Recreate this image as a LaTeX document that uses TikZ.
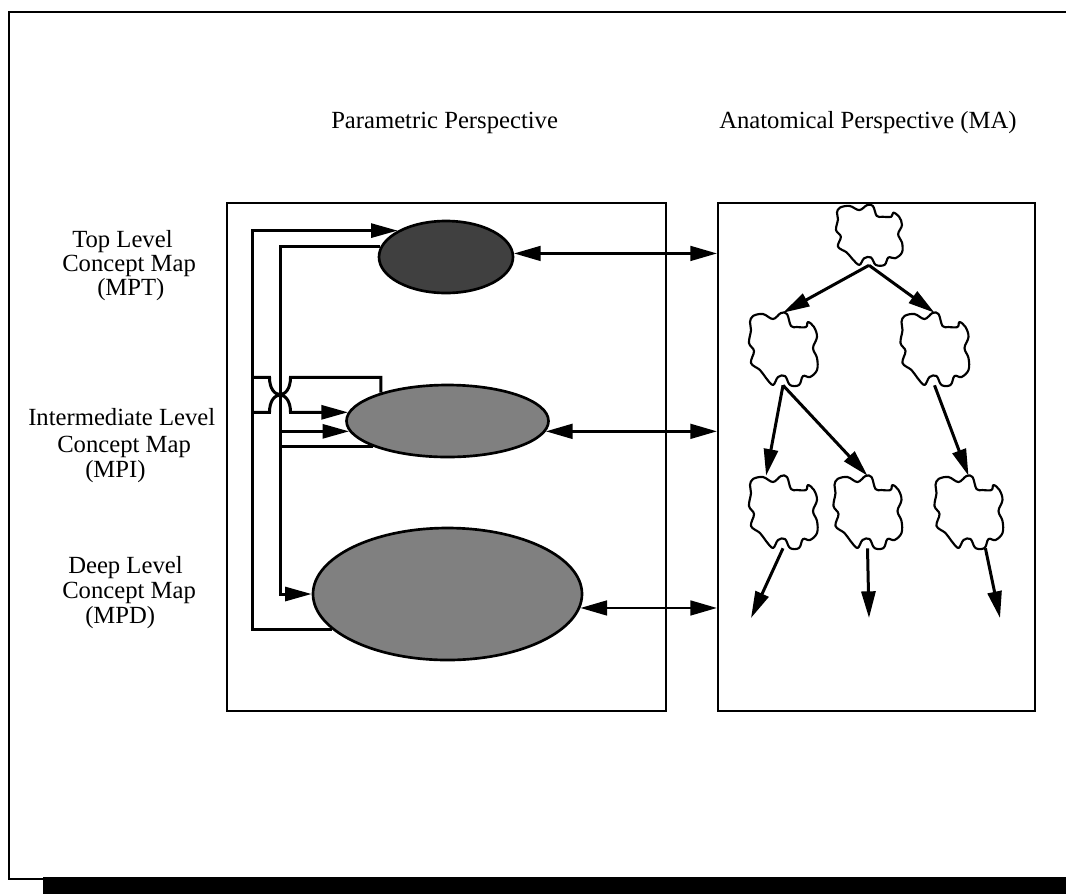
\documentclass[tikz,border=0pt]{standalone}
\usepackage{fontspec}
\setmainfont{Liberation Serif}
\usetikzlibrary{shapes.geometric,arrows.meta,calc}

\tikzset{blob/.pic={
    \draw[line width=1.6pt, line join=round] plot[smooth cycle, tension=0.6] coordinates {
      (-30,-33) (-20,-35) (-10,-30) (-2,-36) (4,-35) (8,-23) (14,-22) (23,-22) (25,-27)
      (31,-22) (34,-12) (30,-1) (34,9) (34,21) (27,28) (20,27) (16,36) (7,36) (2,27)
      (-5,28) (-10,36) (-17,29) (-23,21) (-32,14) (-29,2) (-34,-6) (-32,-19) (-33,-27)};
}}

\begin{document}
\begin{tikzpicture}[x=0.75pt, y=-0.75pt, font=\fontsize{18.5}{18.75}\selectfont]
    \tikzstyle{persp}=[draw, line width=1.5pt, inner sep=0pt, minimum height=381pt]
    \tikzstyle{map}=[ellipse, draw, line width=2pt, inner sep=0pt]
    \tikzstyle{blobbox}=[inner sep=0pt, minimum width=51pt, minimum height=54pt]
    \tikzstyle{link}=[line width=2.25pt]
    \tikzstyle{arr}=[line width=2.25pt, -{Triangle[length=20pt,width=10.5pt]}]
    \tikzstyle{dbl}=[line width=2pt, {Triangle[length=20pt,width=11pt]}-{Triangle[length=20pt,width=11pt]}]
    \tikzstyle{lbl}=[anchor=base west, inner sep=0pt]
    \useasboundingbox (0,0) rectangle (1066,894);

    % frame and shadow
    \draw[line width=1.5pt] (1066,12) -- (9,12) -- (9,879) -- (43,879);
    \fill (43,877) rectangle (1066,894);

    % headings
    \node[lbl] (hpar) at (331,128) {Parametric Perspective};
    \node[lbl] (hana) at (719,128) {Anatomical Perspective (MA)};

    % level labels
    \node[lbl] (topA) at (72,247) {Top Level};
    \node[lbl] (topB) at (62,271) {Concept Map};
    \node[lbl] (topC) at (97,295) {(MPT)};
    \node[lbl] (midA) at (28,425) {Intermediate Level};
    \node[lbl] (midB) at (57,452) {Concept Map};
    \node[lbl] (midC) at (85,477) {(MPI)};
    \node[lbl] (deepA) at (68,573) {Deep Level};
    \node[lbl] (deepB) at (62,598) {Concept Map};
    \node[lbl] (deepC) at (85,623) {(MPD)};

    % the two perspectives
    \node[persp, minimum width=329.25pt] (param) at (446.5,457) {};
    \node[persp, minimum width=237.75pt] (anat) at (876.5,457) {};

    % concept maps
    \node[map, fill={rgb,255:red,64;green,64;blue,64}, minimum width=100.5pt, minimum height=54pt] (top) at (446,257) {};
    \node[map, fill={rgb,255:red,128;green,128;blue,128}, minimum width=151.5pt, minimum height=54pt] (mid) at (447.5,421) {};
    \node[map, fill={rgb,255:red,128;green,128;blue,128}, minimum width=201.75pt, minimum height=99pt] (deep) at (447.5,594) {};

    % feedback lines on the left
    \coordinate (busL) at (252,0);
    \coordinate (busR) at (280,0);
    \coordinate (hopB) at (busR |- mid.175);
    \coordinate (hopA) at ($(hopB)+(0,-35)$);
    \draw[arr] (deep.197) -| (busL |- top.north west) -- (top.north west);
    \draw[arr] (top.171) -| (busR |- deep.west) -- (deep.west);
    \draw[link] (mid.157) |- ($(hopA)+(10.5,0)$) .. controls +(0,23) and +(0,23) .. ($(hopA)+(-10.5,0)$) -- (busL |- hopA);
    \draw[arr] (busL |- hopB) -- ($(hopB)+(-10.5,0)$) .. controls +(0,-23) and +(0,-23) .. ($(hopB)+(10.5,0)$) -- (mid.175);
    \draw[arr] (busR |- mid.186) -- (mid.186);
    \draw[link] (mid.199) -- (busR |- mid.199);

    % links between perspectives
    \draw[dbl] (top.3) -- (top.3 -| anat.west);
    \draw[dbl] (mid.-6) -- (mid.-6 -| anat.west);
    \draw[dbl] (deep.-6) -- (deep.-6 -| anat.west);

    % anatomical tree
    \node[blobbox, minimum width=49.5pt, minimum height=45pt] (root) at (869,235) {};
    \node[blobbox] (l) at (783,349) {};
    \node[blobbox] (r) at (934.5,349) {};
    \node[blobbox] (ll) at (783,512) {};
    \node[blobbox] (lm) at (867.5,512) {};
    \node[blobbox] (rr) at (968.5,512) {};
    \pic[xscale=0.97, yscale=0.83] at (root) {blob};
    \foreach \n in {l,r,ll,lm,rr}
        \pic at (\n) {blob};
    \coordinate (endll) at (751,618);
    \coordinate (endlm) at (869,618);
    \coordinate (endrr) at (1000,618);
    \draw[arr] (root.south) -- (l.north);
    \draw[arr] (root.south) -- (r.north);
    \draw[arr] (l.south) -- (ll.115);
    \draw[arr] (l.south) -- (lm.north);
    \draw[arr] (r.south) -- (rr.north);
    \draw[arr] (ll.south) -- (endll);
    \draw[arr] (lm.south) -- (endlm);
    \draw[arr] (rr.-65) -- (endrr);
\end{tikzpicture}
\end{document}
